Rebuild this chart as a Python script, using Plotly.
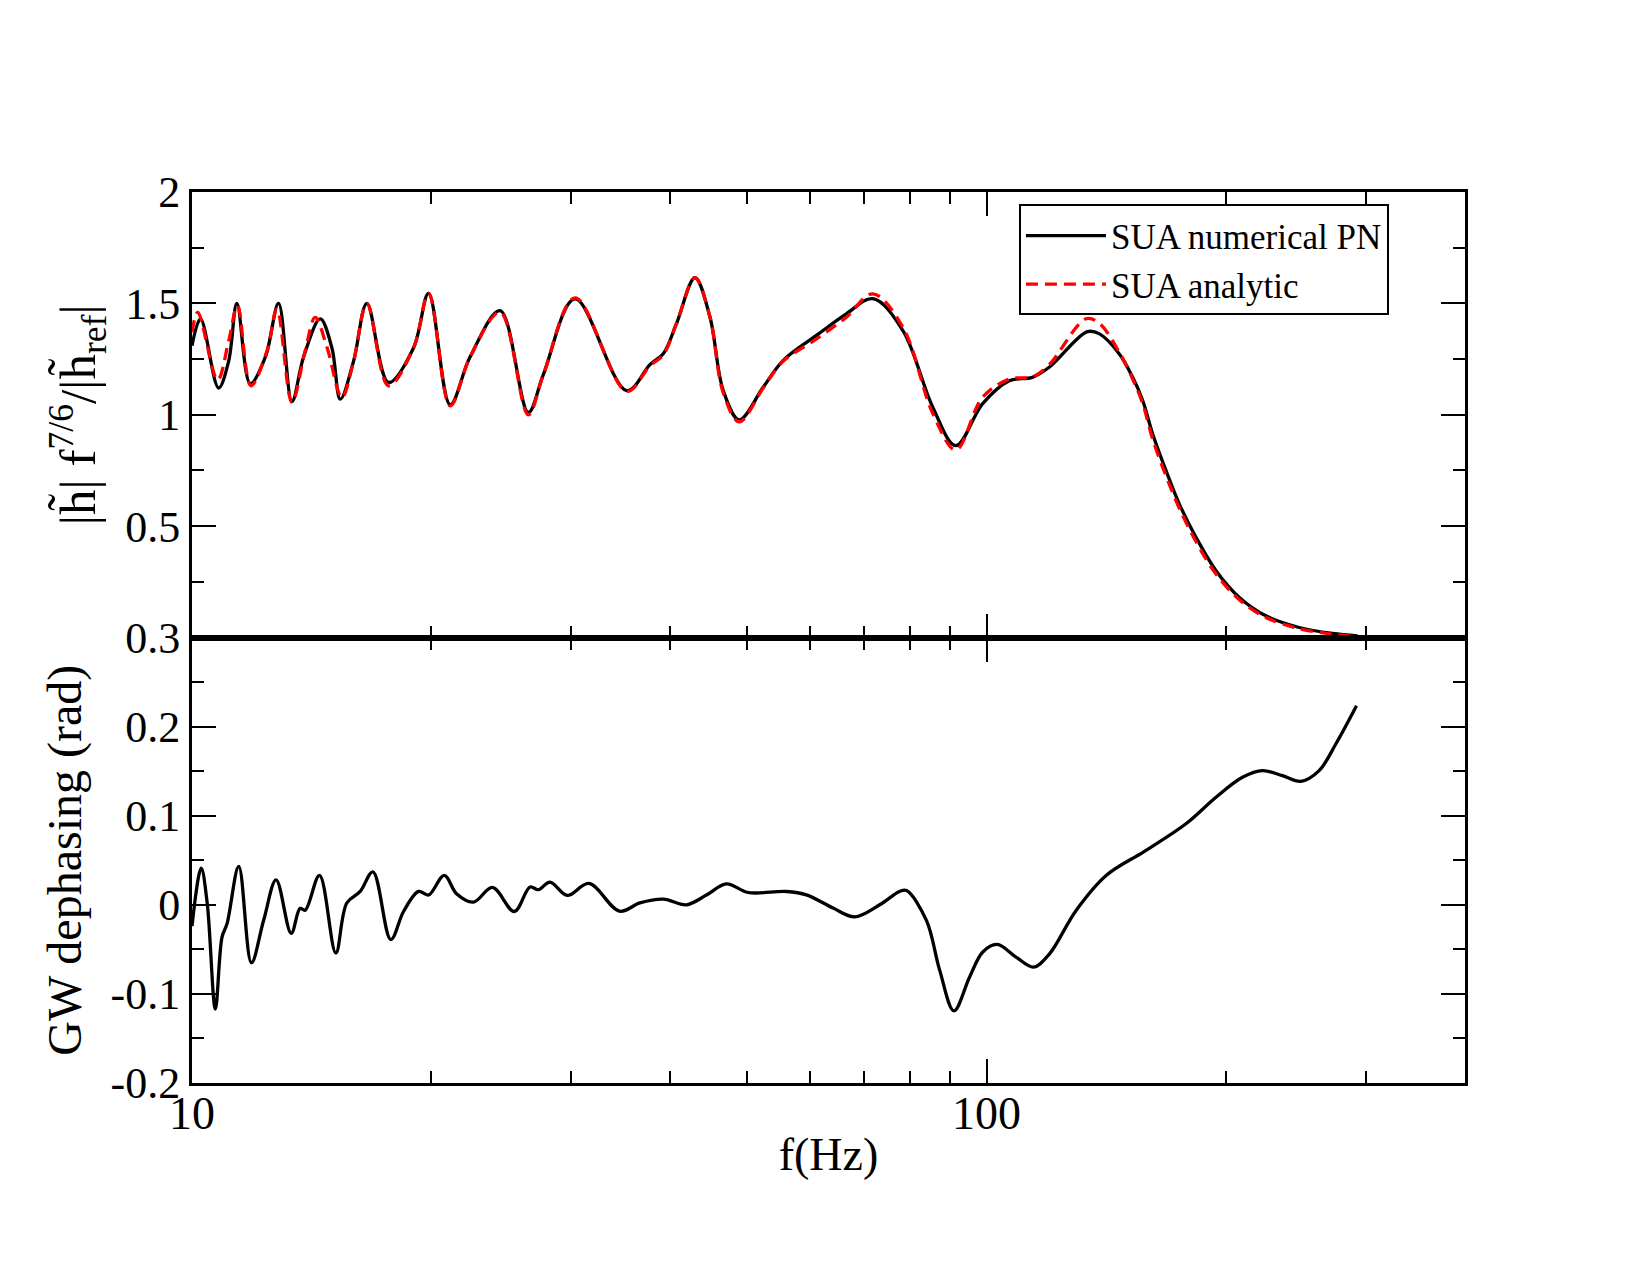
import plotly.graph_objects as go
from plotly.subplots import make_subplots

# ---- data ----
freq_num = [10.0, 10.25, 10.80, 11.12, 11.39, 11.84, 12.37, 12.85, 13.36, 13.82, 14.50, 15.00,
            15.37, 15.97, 16.60, 17.67, 19.00, 19.85, 21.13, 22.39, 24.42, 26.50, 27.68, 30.34,
            35.24, 37.7, 39.2, 40.72, 42.95, 44.85, 46.61, 48.82, 52.33, 55.44, 61.07, 66.60,
            71.94, 78.46, 85.58, 91.48, 98.81, 106.8, 114.2, 119.9, 133.9, 138.7, 146.9, 152.7,
            157.2, 161.8, 168.2, 174.8, 183.5, 194.4, 208.0, 224.6, 247.4, 272.4, 293.0]
amp_num = [1.31, 1.43, 1.12, 1.24, 1.50, 1.14, 1.26, 1.50, 1.06, 1.26, 1.43, 1.30,
           1.07, 1.24, 1.50, 1.145, 1.30, 1.545, 1.045, 1.26, 1.467, 1.01, 1.18, 1.52,
           1.108, 1.225, 1.275, 1.41, 1.615, 1.44, 1.11, 0.977, 1.123, 1.243, 1.356, 1.453,
           1.521, 1.378, 1.033, 0.861, 1.049, 1.153, 1.168, 1.213, 1.373, 1.363, 1.273, 1.168,
           1.064, 0.914, 0.749, 0.599, 0.449, 0.300, 0.180, 0.0975, 0.045, 0.018, 0.0075]

freq_ana = [10.0, 10.17, 10.77, 11.12, 11.41, 11.86, 12.43, 12.79, 13.36, 13.88, 14.29, 14.79,
            15.44, 15.97, 16.60, 17.67, 19.00, 19.85, 21.13, 22.39, 24.42, 26.50, 27.68, 30.34,
            35.24, 37.7, 39.2, 40.72, 42.95, 44.85, 46.61, 48.82, 52.33, 55.44, 61.07, 66.60,
            71.94, 78.46, 85.58, 91.48, 98.81, 106.8, 114.2, 119.9, 133.4, 138.7, 146.9, 152.7,
            157.2, 161.8, 168.2, 174.8, 183.5, 194.4, 208.0, 224.6, 247.4, 272.4, 293.0]
amp_ana = [1.37, 1.46, 1.156, 1.33, 1.49, 1.13, 1.287, 1.475, 1.055, 1.287, 1.437, 1.302,
           1.078, 1.24, 1.50, 1.13, 1.30, 1.545, 1.04, 1.26, 1.46, 1.00, 1.18, 1.525,
           1.105, 1.22, 1.27, 1.41, 1.615, 1.44, 1.10, 0.968, 1.12, 1.24, 1.34, 1.438,
           1.543, 1.393, 1.005, 0.842, 1.078, 1.16, 1.17, 1.225, 1.431, 1.41, 1.28, 1.16,
           1.05, 0.89, 0.725, 0.58, 0.43, 0.285, 0.17, 0.09, 0.04, 0.015, 0.005]

freq_phase = [10.0, 10.27, 10.45, 10.70, 10.91, 11.07, 11.45, 11.88, 12.31, 12.76, 13.33, 13.68,
              13.88, 14.47, 15.17, 15.66, 16.28, 16.89, 17.79, 18.46, 19.28, 19.85, 20.77, 21.54,
              22.61, 23.88, 25.45, 26.63, 27.28, 28.22, 29.67, 31.59, 34.52, 36.62, 39.2, 41.9,
              44.41, 47.05, 50.11, 55.98, 59.32, 64.08, 68.2, 73.35, 77.7, 79.3, 84.0, 87.3,
              90.97, 95.2, 98.9, 103.1, 108.9, 114.6, 120.0, 129.6, 141.4, 158.0, 178.2, 194.4,
              209.9, 222.5, 235.7, 248.6, 262.1, 275.1, 292.1]
dephase = [-0.024, 0.041, 0.002, -0.117, -0.036, -0.021, 0.043, -0.065, -0.017, 0.028, -0.032, -0.004,
           -0.006, 0.033, -0.054, 0.002, 0.015, 0.037, -0.039, -0.0075, 0.015, 0.011, 0.033, 0.012,
           0.003, 0.0195, -0.0075, 0.020, 0.017, 0.0255, 0.0105, 0.024, -0.0072, 0.0022, 0.0064, 0.0,
           0.011, 0.0235, 0.0138, 0.0149, 0.0112, -0.0037, -0.0135, 0.0, 0.0149, 0.016, -0.0175, -0.0736,
           -0.119, -0.081, -0.053, -0.0445, -0.0587, -0.070, -0.055, -0.0063, 0.033, 0.060, 0.0909, 0.1207,
           0.1431, 0.1506, 0.145, 0.1386, 0.1506, 0.1805, 0.2234]

x_major = [10, 100]
x_minor = [20, 30, 40, 50, 60, 70, 80, 90, 200, 300, 400]
y1_major = [0.5, 1, 1.5, 2]
y1_minor = [0.25, 0.75, 1.25, 1.75]
y2_major = [-0.2, -0.1, 0, 0.1, 0.2, 0.3]
y2_labels = ["-0.2", "-0.1", "0", "0.1", "0.2", "0.3"]
y2_minor = [-0.15, -0.05, 0.05, 0.15, 0.25]

FONT = "Liberation Serif"

fig = make_subplots(rows=2, cols=1, shared_xaxes=True, vertical_spacing=0)

fig.add_trace(go.Scatter(x=freq_num, y=amp_num, mode="lines", name="SUA numerical PN",
                         line=dict(color="black", width=3.3, shape="spline", smoothing=1.0)),
              row=1, col=1)
fig.add_trace(go.Scatter(x=freq_ana, y=amp_ana, mode="lines", name="SUA analytic",
                         line=dict(color="#ff0000", width=3.3, dash="12px,7px",
                                   shape="spline", smoothing=1.0)),
              row=1, col=1)
fig.add_trace(go.Scatter(x=freq_phase, y=dephase, mode="lines", showlegend=False,
                         line=dict(color="black", width=3.3, shape="spline", smoothing=1.0)),
              row=2, col=1)

axis_common = dict(showline=True, linecolor="black", linewidth=3, mirror="allticks",
                   ticks="inside", ticklen=24, tickwidth=2, tickcolor="black",
                   showgrid=False, zeroline=False)

xr = [1, 2.60206]
fig.update_xaxes(type="log", range=xr, tickvals=x_major,
                 tickfont=dict(family=FONT, size=46, color="black"),
                 minor=dict(tickvals=x_minor, ticks="inside", ticklen=12, tickwidth=2,
                            tickcolor="black", showgrid=False),
                 **axis_common)
fig.update_xaxes(showticklabels=False, row=1, col=1)
fig.update_xaxes(showticklabels=True, ticktext=["10", "100"], ticklabelstandoff=-12,
                 title=dict(text="f(Hz)", font=dict(family=FONT, size=46, color="black"),
                            standoff=0),
                 row=2, col=1)

fig.update_yaxes(range=[0, 2], tickvals=y1_major, ticktext=["0.5", "1", "1.5", "2"],
                 tickfont=dict(family=FONT, size=44, color="black"),
                 minor=dict(tickvals=y1_minor, ticks="inside", ticklen=12, tickwidth=2,
                            tickcolor="black", showgrid=False),
                 title=dict(text="|h\u0303| f<sup>7/6</sup>/|h\u0303<sub>ref</sub>|",
                            font=dict(family=FONT, size=51, color="black"), standoff=14),
                 row=1, col=1, **axis_common)
fig.update_yaxes(range=[-0.2, 0.3], tickvals=y2_major, ticktext=y2_labels,
                 tickfont=dict(family=FONT, size=44, color="black"),
                 minor=dict(tickvals=y2_minor, ticks="inside", ticklen=12, tickwidth=2,
                            tickcolor="black", showgrid=False),
                 title=dict(text="GW dephasing (rad)",
                            font=dict(family=FONT, size=48, color="black"), standoff=14),
                 row=2, col=1, **axis_common)

fig.update_layout(
    width=1650, height=1275,
    margin=dict(l=192, r=185, t=192, b=192, autoexpand=False),
    paper_bgcolor="white", plot_bgcolor="white",
    font=dict(family=FONT, color="black"),
    legend=dict(x=0.6496, y=0.986, xanchor="left", yanchor="top",
                bgcolor="white", bordercolor="black", borderwidth=2,
                font=dict(family=FONT, size=35, color="black"),
                itemwidth=80, tracegroupgap=0),
)

fig.write_html("out.html")
